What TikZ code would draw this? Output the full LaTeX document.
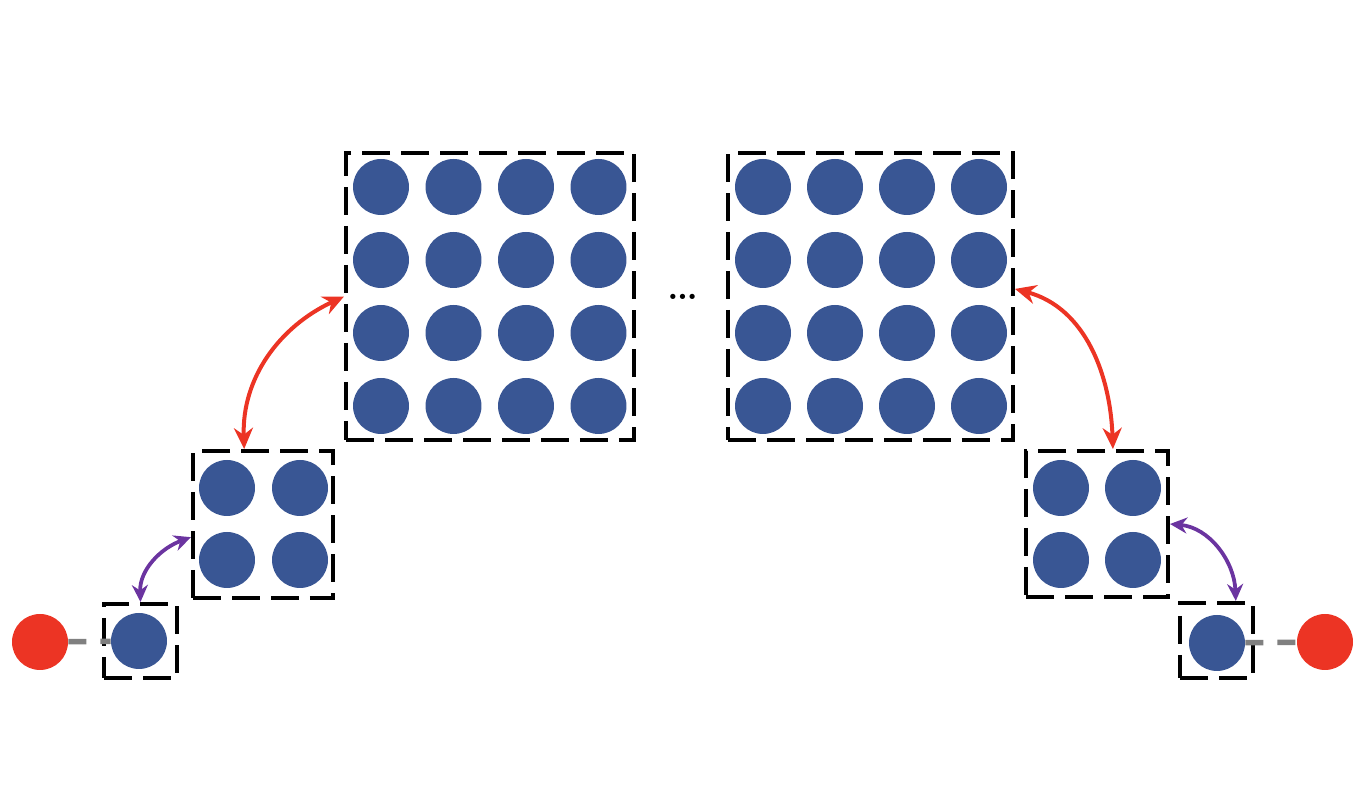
\documentclass[tikz,border=0pt]{standalone}
\usetikzlibrary{arrows.meta}
\definecolor{qblue}{RGB}{57,86,148}
\definecolor{qred}{RGB}{236,52,36}
\definecolor{qpurple}{RGB}{107,52,160}
\definecolor{qgray}{RGB}{128,128,128}
\begin{document}
\begin{tikzpicture}[x=0.02cm,y=0.02cm,
  box/.style={draw=black,line width=2.3pt,dash pattern=on 0.56cm off 0.22cm,inner sep=0pt},
  qubit/.style={circle,fill=qblue,minimum size=1.12cm,inner sep=0pt},
  lead/.style={circle,fill=qred,minimum size=1.12cm,inner sep=0pt},
  link/.style={qgray,line width=0.11cm,dash pattern=on 0.36cm off 0.28cm},
  swap/.style={{Stealth[length=0.42cm,width=0.38cm]}-{Stealth[length=0.42cm,width=0.38cm]},line width=0.08cm},
  swapsm/.style={{Stealth[length=0.34cm,width=0.32cm]}-{Stealth[length=0.34cm,width=0.32cm]},line width=0.075cm}]
\useasboundingbox (0,0) rectangle (1360,800);

% left side
\node[box,minimum width=1.46cm,minimum height=1.48cm] (smL) at (140.5,159) {};
\node[qubit] (sL) at (139,159) {};
\node[lead] (redL) at (40,158) {};
\draw[link] (redL) -- (sL);

\node[box,minimum width=2.8cm,minimum height=2.94cm] (medL) at (263,275.5) {};
\foreach \i in {0,1}
  \foreach \j in {0,1}
    \node[qubit] (mL\i\j) at (227+73*\i,312-72*\j) {};

\node[box,minimum width=5.76cm,minimum height=5.74cm] (bigL) at (490,503.5) {};
\foreach \i in {0,...,3}
  \foreach \j in {0,...,3}
    \node[qubit] (bL\i\j) at (381+72.5*\i,613-73*\j) {};

% right side
\node[box,minimum width=5.7cm,minimum height=5.74cm] (bigR) at (870.5,503.5) {};
\foreach \i in {0,...,3}
  \foreach \j in {0,...,3}
    \node[qubit] (bR\i\j) at (763+72*\i,613-73*\j) {};

\node[box,minimum width=2.84cm,minimum height=2.92cm] (medR) at (1097,276) {};
\foreach \i in {0,1}
  \foreach \j in {0,1}
    \node[qubit] (mR\i\j) at (1061+72*\i,312-72*\j) {};

\node[box,minimum width=1.46cm,minimum height=1.5cm] (smR) at (1216.5,159.5) {};
\node[qubit] (sR) at (1217,157) {};
\node[lead] (redR) at (1325,158) {};
\draw[link] (sR) -- (redR);

\node[anchor=base,scale=2.8] (dots) at (683,500) {\ldots};

% swaps
\draw[swap,qred] (medL.104) to[out=92,in=205] (bigL.west);
\draw[swap,qred] (bigR.3) to[out=-15,in=92] (medR.78);
\draw[swapsm,qpurple] (smL.north) to[out=92,in=200] (medL.190);
\draw[swapsm,qpurple] (medR.east) to[out=-5,in=92] (smR.64);

\end{tikzpicture}
\end{document}
